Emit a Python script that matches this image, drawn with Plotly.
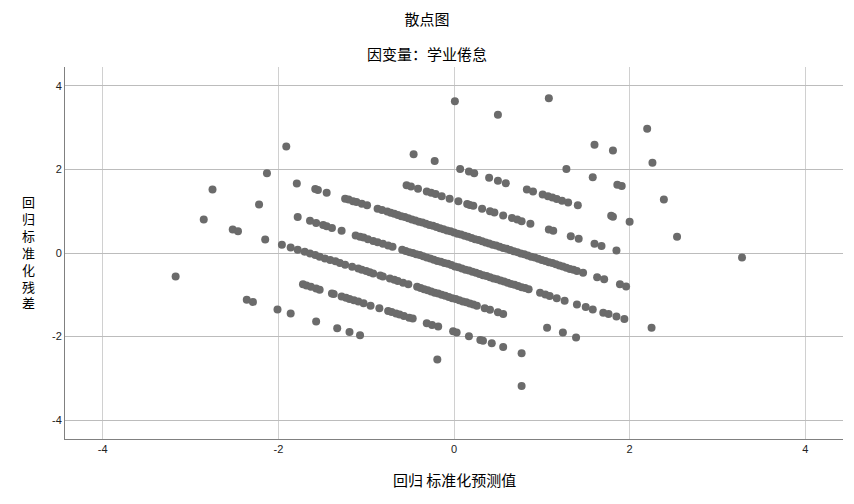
import plotly.graph_objects as go

# Standardized predicted value (x) and standardized residual (y), read per diagonal band
band1_x = [1.08, 2.20]
band1_y = [3.70, 2.97]

band2_x = [0.01, 0.50, 1.60, 1.81, 2.26]
band2_y = [3.63, 3.31, 2.59, 2.45, 2.16]

band3_x = [1.28, 1.58, 1.86, 1.91, 2.39]
band3_y = [2.01, 1.81, 1.63, 1.60, 1.28]

band4_x = [-0.46, -0.22, 0.07, 0.17, 0.23, 0.40, 0.50, 0.59, 0.83, 0.90, 1.01, 1.07, 1.12,
           1.17, 1.23, 1.30, 1.41, 1.79, 1.81, 2.00, 2.54, 3.28]
band4_y = [2.36, 2.20, 2.01, 1.95, 1.91, 1.80, 1.73, 1.67, 1.52, 1.47, 1.40, 1.36, 1.33,
           1.29, 1.25, 1.21, 1.14, 0.89, 0.87, 0.75, 0.39, -0.11]

band5_x = [-1.91, -0.54, -0.49, -0.41, -0.31, -0.26, -0.21, -0.14, -0.05, 0.05, 0.15, 0.18,
           0.22, 0.32, 0.41, 0.46, 0.56, 0.66, 0.72, 0.77, 0.87, 1.08, 1.13, 1.33, 1.42,
           1.60, 1.68, 1.85]
band5_y = [2.55, 1.62, 1.59, 1.54, 1.47, 1.44, 1.41, 1.36, 1.30, 1.24, 1.17, 1.15,
           1.13, 1.06, 1.00, 0.97, 0.90, 0.84, 0.80, 0.76, 0.70, 0.56, 0.53, 0.40, 0.34,
           0.22, 0.17, 0.06]

band6_x = [-2.13, -1.79, -1.58, -1.55, -1.45, -1.24, -1.20, -1.15, -1.11, -1.05, -0.99, -0.87, -0.82,
           -0.76, -0.72, -0.68, -0.64, -0.60, -0.56, -0.52, -0.48, -0.44, -0.40, -0.36, -0.32,
           -0.28, -0.24, -0.20, -0.16, -0.12, -0.08, -0.04, 0.00, 0.04, 0.08, 0.12, 0.16, 0.20,
           0.24, 0.28, 0.32, 0.36, 0.40, 0.44, 0.48, 0.52, 0.56, 0.60, 0.64, 0.68, 0.72, 0.76,
           0.80, 0.84, 0.88, 0.92, 0.96, 1.00, 1.04, 1.08, 1.12, 1.16, 1.20, 1.24, 1.28, 1.32,
           1.36, 1.40, 1.47, 1.63, 1.71, 1.89, 1.96]
band6_y = [1.91, 1.66, 1.53, 1.51, 1.44, 1.30, 1.28, 1.24, 1.22, 1.18, 1.14, 1.06, 1.03,
           0.99, 0.96, 0.94, 0.91, 0.88, 0.86, 0.83, 0.80, 0.78, 0.75, 0.73, 0.70,
           0.67, 0.65, 0.62, 0.59, 0.57, 0.54, 0.52, 0.49, 0.46, 0.44, 0.41, 0.39, 0.36,
           0.33, 0.31, 0.28, 0.25, 0.23, 0.20, 0.18, 0.15, 0.12, 0.10, 0.07, 0.04, 0.02, -0.01,
           -0.03, -0.06, -0.09, -0.11, -0.14, -0.17, -0.19, -0.22, -0.24, -0.27, -0.30, -0.32, -0.35, -0.38,
           -0.40, -0.43, -0.47, -0.58, -0.63, -0.75, -0.80]

band7_x = [-2.75, -2.22, -1.78, -1.64, -1.57, -1.49, -1.45, -1.39, -1.28, -1.12, -1.07, -1.03,
           -0.98, -0.92, -0.87, -0.81, -0.75, -0.70,
           -0.59, -0.55, -0.51, -0.47, -0.43, -0.39, -0.35, -0.31, -0.27, -0.23, -0.19, -0.15,
           -0.11, -0.07, -0.03, 0.01, 0.05, 0.09, 0.13, 0.17, 0.21, 0.25, 0.29, 0.33, 0.37,
           0.41, 0.45, 0.49, 0.53, 0.57, 0.61, 0.65, 0.69, 0.73, 0.77, 0.81, 0.85,
           0.98, 1.04, 1.09, 1.17, 1.26, 1.40, 1.50, 1.58, 1.70, 1.76, 1.85, 1.94, 2.25]
band7_y = [1.52, 1.16, 0.86, 0.77, 0.72, 0.67, 0.64, 0.60, 0.53, 0.42, 0.39, 0.37,
           0.33, 0.29, 0.26, 0.22, 0.18, 0.15,
           0.08, 0.05, 0.02, 0.00, -0.03, -0.05, -0.08, -0.11, -0.13, -0.16, -0.19, -0.21,
           -0.24, -0.26, -0.29, -0.32, -0.34, -0.37, -0.40, -0.42, -0.45, -0.47, -0.50, -0.53, -0.55,
           -0.58, -0.61, -0.63, -0.66, -0.68, -0.71, -0.74, -0.76, -0.79, -0.82, -0.84, -0.87,
           -0.95, -0.99, -1.03, -1.08, -1.14, -1.23, -1.29, -1.35, -1.43, -1.46, -1.52, -1.58, -1.79]

band8_x = [-2.85, -2.52, -2.46, -2.15, -1.96, -1.86, -1.78,
           -1.70, -1.64, -1.58, -1.53, -1.47, -1.41, -1.35, -1.30, -1.24, -1.16, -1.09, -1.05,
           -1.00, -0.96, -0.92, -0.84, -0.81, -0.73, -0.68, -0.64, -0.58, -0.52,
           -0.42, -0.38, -0.34, -0.30, -0.26, -0.22, -0.18, -0.14, -0.10, -0.06, -0.02, 0.02,
           0.06, 0.10, 0.14, 0.18, 0.22, 0.26,
           0.35, 0.41, 0.50, 0.56, 1.06, 1.24, 1.39]
band8_y = [0.80, 0.56, 0.52, 0.32, 0.20, 0.13, 0.08,
           0.03, -0.01, -0.05, -0.09, -0.13, -0.17, -0.20, -0.24, -0.28, -0.33, -0.37, -0.40,
           -0.43, -0.46, -0.49, -0.54, -0.56, -0.61, -0.64, -0.67, -0.71, -0.75,
           -0.81, -0.84, -0.87, -0.89, -0.92, -0.95, -0.97, -1.00, -1.02, -1.05, -1.08, -1.10,
           -1.13, -1.16, -1.18, -1.21, -1.23, -1.26,
           -1.32, -1.36, -1.42, -1.46, -1.79, -1.90, -2.02]

band9_x = [-1.72, -1.68, -1.63, -1.57, -1.53, -1.39, -1.37, -1.28, -1.23, -1.19, -1.14, -1.09,
           -1.03, -0.95, -0.85, -0.75, -0.71, -0.66, -0.62, -0.57, -0.51, -0.47, -0.31, -0.25,
           -0.18, -0.01, 0.03, 0.17, 0.30, 0.33, 0.43, 0.56, 0.77]
band9_y = [-0.75, -0.78, -0.81, -0.85, -0.88, -0.97, -0.98, -1.04, -1.07, -1.10, -1.13, -1.16,
           -1.20, -1.26, -1.32, -1.39, -1.41, -1.45, -1.47, -1.51, -1.55, -1.57, -1.68, -1.72,
           -1.76, -1.87, -1.90, -1.99, -2.08, -2.10, -2.16, -2.25, -2.40]

band10_x = [-3.17, -2.36, -2.29, -2.01, -1.86, -1.57, -1.33, -1.19, -1.07, -0.19, 0.77]
band10_y = [-0.56, -1.12, -1.17, -1.35, -1.45, -1.64, -1.80, -1.89, -1.97, -2.55, -3.18]

x_ticks = [-4, -2, 0, 2, 4]
y_ticks = [-4, -2, 0, 2, 4]

title_text = "散点图"
subtitle_text = "因变量：学业倦怠"
x_title = "回归 标准化预测值"
y_title = "回归标准化残差"

all_x = (band1_x + band2_x + band3_x + band4_x + band5_x + band6_x + band7_x
         + band8_x + band9_x + band10_x)
all_y = (band1_y + band2_y + band3_y + band4_y + band5_y + band6_y + band7_y
         + band8_y + band9_y + band10_y)

fig = go.Figure()
fig.add_trace(go.Scatter(
    x=all_x, y=all_y, mode="markers",
    marker=dict(size=8, color="#6b6b6b", line=dict(width=0)),
    showlegend=False, hoverinfo="x+y",
))

cjk = "Noto Sans CJK SC, Noto Sans, sans-serif"
tickfont = dict(family="Liberation Sans Narrow, Liberation Sans, Arial, sans-serif", size=11, color="#222222")

PLOT_L, PLOT_R, PLOT_T, PLOT_B = 65, 843, 67, 439
PW, PH = PLOT_R - PLOT_L, PLOT_B - PLOT_T

def px_x(px):
    return (px - PLOT_L) / PW

def px_y(py):
    return (PLOT_B - py) / PH

annotations = [
    dict(text=subtitle_text, xref="paper", yref="paper", x=px_x(427), y=px_y(53),
         xanchor="center", yanchor="middle", showarrow=False,
         font=dict(family=cjk, size=15, color="black")),
    dict(text=x_title, xref="paper", yref="paper", x=0.5, y=px_y(480),
         xanchor="center", yanchor="middle", showarrow=False,
         font=dict(family=cjk, size=15, color="black")),
    dict(text="<br>".join(list(y_title)), xref="paper", yref="paper", x=px_x(28), y=px_y(252),
         xanchor="center", yanchor="middle", showarrow=False, align="center",
         font=dict(family=cjk, size=13, color="black")),
]

fig.update_layout(
    width=854, height=504,
    margin=dict(l=PLOT_L, r=854 - PLOT_R, t=PLOT_T, b=504 - PLOT_B),
    paper_bgcolor="white", plot_bgcolor="white",
    title=dict(text=title_text, x=427 / 854, xanchor="center",
               y=1 - 20 / 504, yanchor="middle",
               font=dict(family=cjk, size=15, color="black")),
    xaxis=dict(range=[-4.43, 4.43], tickvals=x_ticks, ticktext=[str(v) for v in x_ticks],
               showgrid=True, gridcolor="#d0d0d0", gridwidth=1, zeroline=False,
               showline=True, linecolor="#808080", linewidth=1, mirror=False,
               ticks="", tickfont=tickfont, fixedrange=True),
    yaxis=dict(range=[-4.45, 4.45], tickvals=y_ticks, ticktext=[str(v) for v in y_ticks],
               showgrid=True, gridcolor="#bcbcbc", gridwidth=1, zeroline=False,
               showline=True, linecolor="#808080", linewidth=1, mirror=False,
               ticks="", tickfont=tickfont, fixedrange=True),
    annotations=annotations,
)

fig.write_html("out.html", config={"displayModeBar": False},
               post_script="document.body.style.margin='0';document.body.style.overflow='hidden';")
